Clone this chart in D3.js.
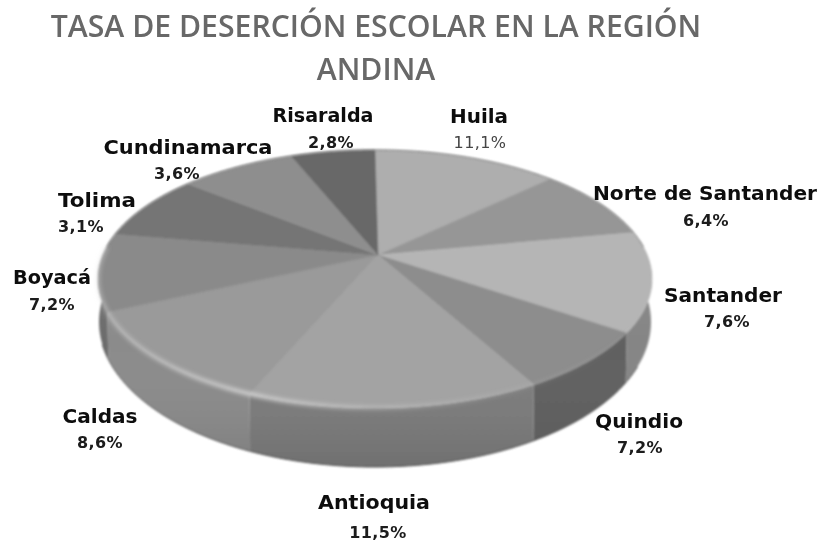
<!DOCTYPE html>
<html lang="es">
<head>
<meta charset="utf-8">
<title>Tasa de deserción escolar en la región Andina</title>
<script src="https://cdn.jsdelivr.net/npm/d3@7"></script>
<style>
html,body{margin:0;padding:0;background:#fff}
svg{display:block}
</style>
</head>
<body>
<svg id="chart" width="821" height="544"></svg>
<script>
// Data
const categories = ["Huila","Norte de Santander","Santander","Quindio","Antioquia","Caldas","Boyacá","Tolima","Cundinamarca","Risaralda"];
const rateLabels = ["11,1%","6,4%","7,6%","7,2%","11,5%","8,6%","7,2%","3,1%","3,6%","2,8%"];
// Slice sizes as drawn in the picture (they do not follow the printed rates)
const sliceShares = [39.2,29.7,45.8,30.3,61.9,48.2,35.3,27.1,24.9,17.6];
const titleLines = ["TASA DE DESERCIÓN ESCOLAR EN LA REGIÓN","ANDINA"];

// Styles and layout
const topColors  = ["#aeaeae","#969696","#b5b5b5","#8d8d8d","#a3a3a3","#9a9a9a","#8a8a8a","#747474","#8e8e8e","#676767"];
const sideColors = ["#777","#7c7c7c","#858585","#606060","#7c7c7c","#8b8b8b","#6c6c6c","#666","#666","#666"];
const nameAt = [[479,123],[705,200],[723,302],[639,428],[374,509],[100,423],[52,284],[97,207],[188,154],[323,122]];
const nameWidth = [58,224,118,88,112,75,78,78,169,101];
const rateAt = [[480,148],[706,226],[727,327],[640,453],[378,538],[100,448],[52,310],[81,232],[177,179],[331,148]];

const svg = d3.select("#chart");
const defs = svg.append("defs");
defs.append("filter").attr("id","soft").append("feGaussianBlur").attr("stdDeviation",0.8);
defs.append("filter").attr("id","glow").attr("filterUnits","userSpaceOnUse")
  .attr("x",0).attr("y",0).attr("width",821).attr("height",544)
  .append("feGaussianBlur").attr("stdDeviation",2);
defs.append("filter").attr("id","textSoft").append("feGaussianBlur").attr("stdDeviation",0.35);

const bevel = defs.append("linearGradient").attr("id","bevel").attr("gradientUnits","userSpaceOnUse")
  .attr("x1",100).attr("x2",640).attr("y1",0).attr("y2",0);
[[0,.4],[.28,.8],[.5,.38],[.75,.12],[1,0]].forEach(([o,a])=>
  bevel.append("stop").attr("offset",o).attr("stop-color","#e0e0e0").attr("stop-opacity",a));

const sideShade = defs.append("linearGradient").attr("id","sideShade").attr("x1",0).attr("x2",0).attr("y1",0).attr("y2",1);
[[0,"#fff",.08],[.45,"#fff",0],[1,"#000",.10]].forEach(([o,c,a])=>
  sideShade.append("stop").attr("offset",o).attr("stop-color",c).attr("stop-opacity",a));

// Scales from the unit circle to the drawn ellipses
const topX = d3.scaleLinear().domain([-1,1]).range([98,652]);
const topY = d3.scaleLinear().domain([-1,1]).range([150,408]);
const botX = d3.scaleLinear().domain([-1,1]).range([99,651]);
const botY = d3.scaleLinear().domain([-1,1]).range([177,467]);
const apex = {x:378, y:255};

const pie = d3.pie().sort(null).value(d=>d).startAngle(0).endAngle(2*Math.PI);
const slices = pie(sliceShares);
const line = d3.line();
const samples = (a0,a1)=>{
  const n = Math.max(2,Math.ceil((a1-a0)/0.01));
  return d3.range(n+1).map(i=>a0+(a1-a0)*i/n);
};
const rim = (a,sx,sy)=>[sx(Math.sin(a)),sy(-Math.cos(a))];

const g = svg.append("g").attr("filter","url(#soft)");

// Side wall, drawn first
const sideFrom = Math.PI*0.40, sideTo = Math.PI*1.60;
g.selectAll("path.side").data(slices).join("path").attr("class","side")
  .attr("d",d=>{
    const a0=Math.max(d.startAngle,sideFrom), a1=Math.min(d.endAngle,sideTo);
    if(a1<=a0) return null;
    const s=samples(a0,a1);
    return line([...s.map(a=>rim(a,topX,topY)),...s.reverse().map(a=>rim(a,botX,botY))])+"Z";
  })
  .attr("fill",(d,i)=>sideColors[i]);

// Soft dark edge under the wall and light band on top of it
const front = samples(sideFrom,sideTo);
g.append("path").attr("d",line([...front.map(a=>rim(a,topX,topY)),...front.slice().reverse().map(a=>rim(a,botX,botY))])+"Z")
  .attr("fill","url(#sideShade)");
g.append("path").attr("d",line(samples(Math.PI*0.6,Math.PI*1.45).map(a=>rim(a,botX,botY))))
  .attr("fill","none").attr("stroke","#4a4a4a").attr("stroke-width",1);

// Top face
g.selectAll("path.top").data(slices).join("path").attr("class","top")
  .attr("d",d=>line([[apex.x,apex.y],...samples(d.startAngle,d.endAngle).map(a=>rim(a,topX,topY))])+"Z")
  .attr("fill",(d,i)=>topColors[i])
  .attr("stroke",(d,i)=>topColors[i]).attr("stroke-width",0.5);

// Outline of the back edge and bevel of the front edge
svg.append("path").attr("d",line(samples(-Math.PI*0.42,Math.PI*0.42).map(a=>rim(a,topX,topY))))
  .attr("fill","none").attr("stroke","#777").attr("stroke-width",1).attr("filter","url(#soft)");
svg.append("path").attr("d",line(samples(Math.PI*0.62,Math.PI*1.58).map(a=>rim(a,topX,topY))))
  .attr("fill","none").attr("stroke","url(#bevel)").attr("stroke-width",4).attr("filter","url(#glow)");

// Texts
const text = svg.append("g").attr("filter","url(#textSoft)").attr("text-anchor","middle");
text.selectAll("text.title").data(titleLines).join("text").attr("class","title")
  .attr("x",376).attr("y",(d,i)=>i?80:37)
  .attr("font-family","'Open Sans',sans-serif").attr("font-weight",600).attr("font-size",30.2)
  .attr("fill","#676767").text(d=>d);
text.selectAll("text.name").data(categories).join("text").attr("class","name")
  .attr("x",(d,i)=>nameAt[i][0]).attr("y",(d,i)=>nameAt[i][1])
  .attr("font-family","'DejaVu Sans',sans-serif").attr("font-weight",700).attr("font-size",20)
  .attr("textLength",(d,i)=>nameWidth[i]).attr("lengthAdjust","spacingAndGlyphs")
  .attr("fill","#111").text(d=>d);
text.selectAll("text.rate").data(rateLabels).join("text").attr("class","rate")
  .attr("x",(d,i)=>rateAt[i][0]).attr("y",(d,i)=>rateAt[i][1])
  .attr("font-family","'DejaVu Sans',sans-serif").attr("font-size",16).attr("letter-spacing",0.4)
  .attr("font-weight",(d,i)=>i===0?400:700)
  .attr("fill",(d,i)=>i===0?"#444":"#1a1a1a").text(d=>d);
</script>
</body>
</html>
